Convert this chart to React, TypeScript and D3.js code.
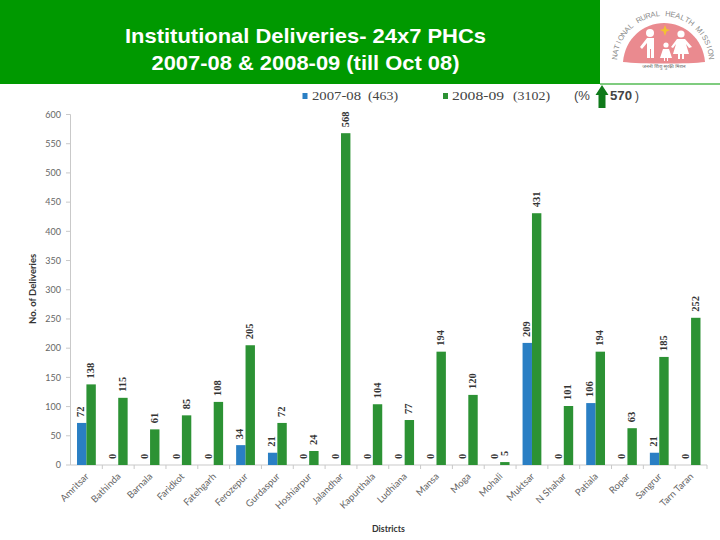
import React from "react";
import * as d3 from "d3";

const districts = ["Amritsar","Bathinda","Barnala","Faridkot","Fatehgarh","Ferozepur","Gurdaspur","Hoshiarpur","Jalandhar","Kapurthala","Ludhiana","Mansa","Moga","Mohali","Muktsar","N Shahar","Patiala","Ropar","Sangrur","Tarn Taran"];
const y2007 = [72,0,0,0,0,34,21,0,0,0,0,0,0,0,209,0,106,0,21,0];
const y2008 = [138,115,61,85,108,205,72,24,568,104,77,194,120,5,431,101,194,63,185,252];
const yTicks = [0,50,100,150,200,250,300,350,400,450,500,550,600];
const titleLines = ["Institutional Deliveries- 24x7 PHCs","2007-08 & 2008-09 (till Oct 08)"];
const titleWidths = [361, 308];
const missionLetters = "NATIONAL RURAL HEALTH MISSION".split("");

const BLUE = "#2a7fc4";
const GREEN = "#2c9234";
const HEADER = "#009900";
const AXIS = "#c9c9c9";
const x0 = d3.scaleBand<string>().domain(districts).range([70.5, 707]);
const y = d3.scaleLinear().domain([0, 600]).range([465, 114.5]);
const barW = 9.4;
const logoAngle = d3.scaleLinear().domain([0, missionLetters.length - 1]).range([-84, 84]);

function Logo() {
  return (
    <g>
      <path d="M623,62 C625,38 644,23 664,23 C684,23 703,38 705,62 C690,64 640,64 623,62 Z" fill="#ea8a8f" />
      {missionLetters.map((ch, i) => {
        const a = logoAngle(i);
        const r = (a * Math.PI) / 180;
        const px = 663 + 46 * Math.sin(r);
        const py = 62 - 46 * Math.cos(r);
        return (
          <text key={i} transform={`translate(${px},${py}) rotate(${a})`} textAnchor="middle" fontFamily="Liberation Sans" fontSize={7.5} fill="#8a8a8a">{ch}</text>
        );
      })}
      <g fill="#fff">
        <circle cx="650" cy="33" r="4" />
        <path d="M640,47 L647,38 H654 V58 H651 V49 H650 V58 H647 V43 L642,49 Z" />
        <circle cx="681" cy="34" r="3.6" />
        <path d="M677,39 H685 L692,47 L689,48 L686,44 L689,54 H684 V59 H682 V54 H680 V59 H678 V54 H673 L676,44 L673,48 L671,47 Z" />
        <circle cx="666" cy="45" r="2.6" />
        <path d="M663,49 H669 L672,58 H668 V61 H667 V58 H665 V61 H664 V58 H660 Z" />
      </g>
      <path d="M665,25 L666.5,29 L670,30 L666.5,31.5 L665,36 L663.5,31.5 L660,30 L663.5,29 Z" fill="#f2c230" />
      <text x={664} y={68} textAnchor="middle" fontFamily="Noto Sans" fontSize={5} fill="#666">जननी शिशु सुरक्षा मिशन</text>
    </g>
  );
}

const Legend = ({ x, w, f, bold, children }: any) => (
  <text x={x} y={100} textLength={w} lengthAdjust="spacingAndGlyphs" fontFamily={f} fontWeight={bold ? "bold" : "normal"} fontSize={12.5} fill="#444">{children}</text>
);

export default function App() {
  return (
    <svg width={720} height={540} viewBox="0 0 720 540" style={{ position: "absolute", left: 0, top: 0, background: "#fff" }}>
      <rect x={0} y={0} width={600} height={84} fill={HEADER} />
      <rect x={600} y={83.5} width={120} height={1} fill={HEADER} />
      {titleLines.map((t, i) => (
        <text key={t} x={125 + (361 - titleWidths[i]) / 2} y={43 + i * 26.5} textLength={titleWidths[i]} lengthAdjust="spacingAndGlyphs" fill="#fff" fontFamily="Liberation Sans" fontWeight="bold" fontSize={20.5}>{t}</text>
      ))}
      <Logo />

      <rect x={302.5} y={93} width={5} height={6} fill={BLUE} />
      <Legend x={312} w={49} f="Liberation Serif">2007-08</Legend>
      <Legend x={368} w={30} f="Liberation Serif">(463)</Legend>
      <rect x={443} y={93} width={5} height={6} fill={GREEN} />
      <Legend x={452} w={52} f="Liberation Serif">2008-09</Legend>
      <Legend x={513} w={37} f="Liberation Serif">(3102)</Legend>
      <Legend x={574} w={16} f="Liberation Sans">(%</Legend>
      <path d="M602,85 L608.5,95 H605.5 V108 H598.5 V95 H595.5 Z" fill="#0f7a1a" />
      <Legend x={610} w={22} f="Liberation Sans" bold>570</Legend>
      <Legend x={635} w={4} f="Liberation Sans">)</Legend>

      <line x1={70.5} x2={70.5} y1={114.5} y2={465} stroke={AXIS} />
      <line x1={70.5} x2={707} y1={465} y2={465} stroke={AXIS} />
      {yTicks.map((t) => (
        <g key={t}>
          <line x1={66} x2={70.5} y1={y(t)} y2={y(t)} stroke={AXIS} />
          <text x={61} y={y(t) + 3.2} textAnchor="end" fontFamily="Lato" fontSize={9} fill="#666">{t}</text>
        </g>
      ))}
      {districts.map((d, i) => {
        const left = x0(d)!;
        const c = left + x0.bandwidth() / 2;
        return (
          <g key={d}>
            <line x1={left + x0.bandwidth()} x2={left + x0.bandwidth()} y1={465} y2={469} stroke={AXIS} />
            {y2007[i] > 0 && <rect x={c - barW} y={y(y2007[i])} width={barW} height={465 - y(y2007[i])} fill={BLUE} />}
            <rect x={c} y={y(y2008[i])} width={barW} height={465 - y(y2008[i])} fill={GREEN} />
            <text transform={`translate(${c - barW / 2 + 2.5},${y(y2007[i]) - 6}) rotate(-90)`} fontFamily="Liberation Serif" fontWeight="bold" fontSize={10.5} fill="#333">{y2007[i]}</text>
            <text transform={`translate(${c + barW / 2 + 3},${y(y2008[i]) - 6}) rotate(-90)`} fontFamily="Liberation Serif" fontWeight="bold" fontSize={10.5} fill="#333">{y2008[i]}</text>
            <text transform={`translate(${c + 3},${477}) rotate(-45)`} textAnchor="end" fontFamily="Lato" fontSize={9.5} fill="#666">{d}</text>
          </g>
        );
      })}
      <text transform="translate(36,324) rotate(-90)" fontFamily="Lato" fontWeight="bold" fontSize={9.5} fill="#333">No. of Deliveries</text>
      <text x={372} y={532} fontFamily="Lato" fontWeight="bold" fontSize={8.8} fill="#333">Districts</text>
    </svg>
  );
}
